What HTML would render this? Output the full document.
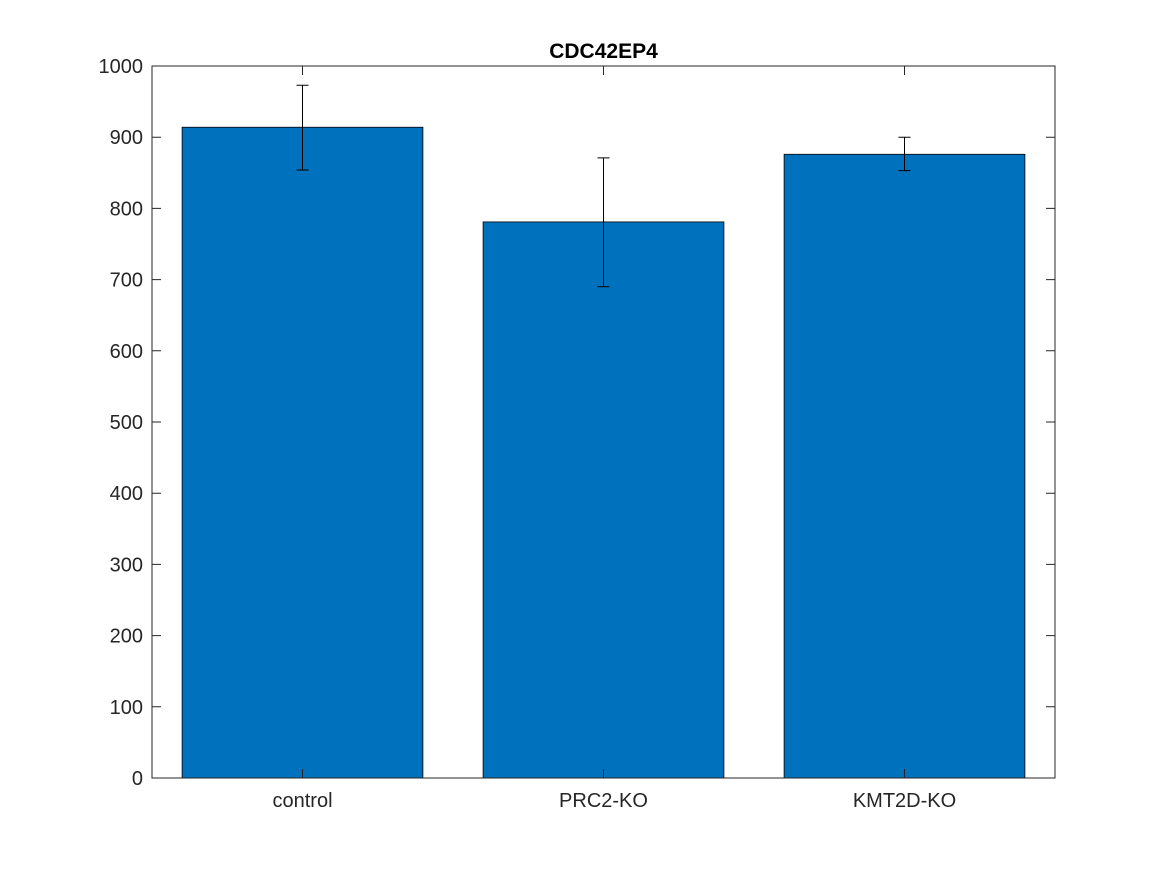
<!DOCTYPE html>
<html><head><meta charset="utf-8"><style>
body{margin:0;background:#fff;}
svg{display:block;font-family:"Liberation Sans",Arial,sans-serif;}
</style></head><body>
<svg id="chart" width="1167" height="875" viewBox="0 0 1167 875"></svg>
<script>
const categories=["control","PRC2-KO","KMT2D-KO"];
const values=[914,781,876];
const errLow=[854,690,853];
const errHigh=[973,871,900];
const yTicks=[0,100,200,300,400,500,600,700,800,900,1000];
const title="CDC42EP4";

const NS="http://www.w3.org/2000/svg";
const svg=document.getElementById('chart');
const L=152,R=1055,T=66,B=778;
const yMin=0,yMax=1000;
const y=v=>B-(v-yMin)/(yMax-yMin)*(B-T);
const xStep=(R-L)/categories.length;
const x=i=>L+xStep*(i+0.5);
function mk(tag,attrs){const e=document.createElementNS(NS,tag);for(const k in attrs)e.setAttribute(k,attrs[k]);svg.appendChild(e);return e;}

const bg=mk('rect',{x:L,y:T,width:R-L,height:B-T,fill:'#fff'});



categories.forEach((c,i)=>{
  const w=xStep*0.8;
  const b=mk('rect',{x:x(i)-w/2,y:y(values[i]),width:w,height:y(0)-y(values[i]),fill:'#0072bd',stroke:'#000','stroke-width':0.8});
  
  
  const g=mk('path',{d:`M${x(i)},${y(errLow[i])}V${y(errHigh[i])}M${x(i)-6},${y(errLow[i])}H${x(i)+6}M${x(i)-6},${y(errHigh[i])}H${x(i)+6}`,stroke:'#000','stroke-width':1,fill:'none'});
  
  
  const t=mk('text',{x:x(i),y:B+29,'text-anchor':'middle','font-size':20,fill:'#262626'});
  t.textContent=c;
  
  
  mk('path',{d:`M${x(i)},${B}v-9M${x(i)},${T}v9`,stroke:'#262626','stroke-width':1});
});

yTicks.forEach(v=>{
  mk('path',{d:`M${L},${y(v)}h9M${R},${y(v)}h-9`,stroke:'#262626','stroke-width':1});
  const t=mk('text',{x:L-9,y:y(v)+7,'text-anchor':'end','font-size':20,fill:'#262626'});
  t.textContent=v;
  
  
});

const frame=mk('rect',{x:L,y:T,width:R-L,height:B-T,fill:'none',stroke:'#262626','stroke-width':1});



const tt=mk('text',{x:(L+R)/2,y:58,'text-anchor':'middle','font-size':21,'font-weight':'bold',fill:'#000'});
tt.textContent=title;


</script>
</body></html>
